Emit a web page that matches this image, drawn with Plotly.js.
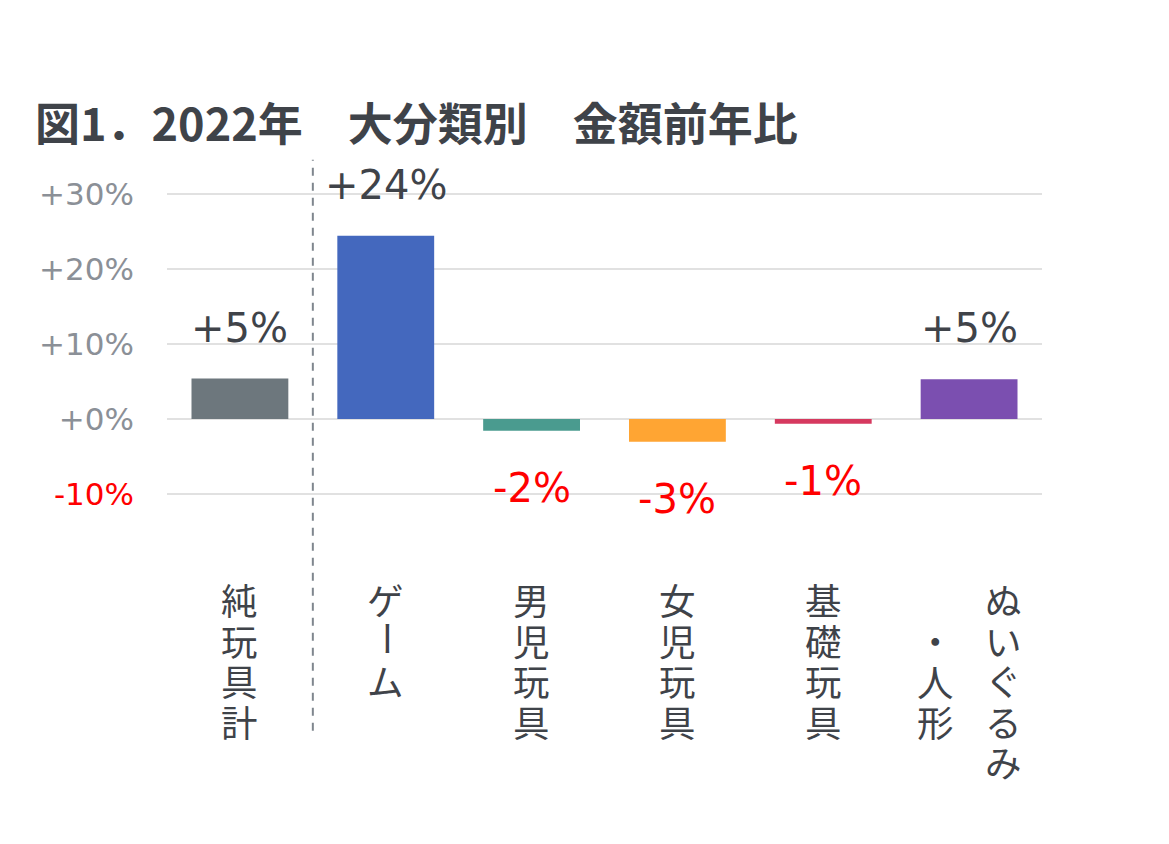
<!DOCTYPE html>
<html>
<head>
<meta charset="utf-8">
<script src="https://cdn.plot.ly/plotly-3.0.1.min.js"></script>
<style>html,body{margin:0;padding:0;background:#fff;}#chart{width:1169px;height:844px;}</style>
</head>
<body>
<div id="chart"></div>
<script>
// ---- data ----
const categories = ["純玩具計", "ゲーム", "男児玩具", "女児玩具", "基礎玩具", "ぬいぐるみ・人形"];
const values = [5.4, 24.4, -1.55, -3.0, -0.6, 5.3];
const barColors = ["#6d777d", "#4468be", "#4a9b8f", "#ffa533", "#d6395f", "#7b4fb0"];
const tickValues = [-10, 0, 10, 20, 30];
const tickLabels = ["-10%", "+0%", "+10%", "+20%", "+30%"];
const titleText = "図1．2022年　大分類別　金額前年比";

// ---- styling ----
const darkText = "#3f4349";
const negRed = "#ff0000";
const cjk = "Noto Sans CJK JP";
const cjkTight = "'Liberation Serif', 'Noto Sans CJK JP'"; // compact line box, CJK glyphs from Noto
const num = "DejaVu Sans";

const tickText = tickLabels.map((t, i) => tickValues[i] < 0 ? `<span style="color:${negRed}">${t}</span>` : t);

const annotations = [];
// value labels
values.forEach((v, i) => {
  const r = Math.round(v);
  const txt = (r >= 0 ? "+" : "") + r + "%";
  annotations.push({
    x: categories[i], y: v, xref: "x", yref: "y",
    text: txt, showarrow: false,
    yanchor: "middle", xanchor: "center",
    yshift: v >= 0 ? 51 : -57,
    font: {family: num, size: 40, color: v >= 0 ? darkText : negRed}
  });
});

// vertical category labels: one text per column (lines = characters), columns right-to-left
const colMax = 5, pitch = 40.5, baseSize = pitch / 1.3, glyphSize = 36.5, colGap = 68, topShift = 82;
categories.forEach((c, i) => {
  const chars = Array.from(c);
  const cols = [];
  for (let k = 0; k < chars.length; k += colMax) cols.push(chars.slice(k, k + colMax));
  const nCols = cols.length;
  const maxLen = Math.max(...cols.map(a => a.length));
  cols.forEach((col, ci) => {
    const xs = ((nCols - 1) / 2 - ci) * colGap;
    const off = Math.floor((maxLen - col.length) / 2);
    const lines = col.map(ch => ch === "ー" ? "" : `<span style="font-size:${glyphSize}px">${ch}</span>`);
    annotations.push({
      x: categories[i], y: 0, xref: "x", yref: "paper",
      text: lines.join("<br>"), showarrow: false,
      xanchor: "center", yanchor: "top", align: "center",
      xshift: xs, yshift: -(topShift + off * pitch),
      font: {family: cjkTight, size: baseSize, color: darkText}
    });
    // long-vowel mark turned upright for vertical writing
    col.forEach((ch, ri) => {
      if (ch !== "ー") return;
      annotations.push({
        x: categories[i], y: 0, xref: "x", yref: "paper",
        text: ch, showarrow: false, textangle: 90,
        xanchor: "center", yanchor: "middle",
        xshift: xs, yshift: -(100.5 + (ri + off) * pitch),
        font: {family: cjkTight, size: glyphSize, color: darkText}
      });
    });
  });
});

const plotTop = 190.25, plotBottom = 497.75, plotH = plotBottom - plotTop;
const data = [{
  type: "bar",
  x: categories,
  y: values,
  marker: {color: barColors},
  hoverinfo: "skip"
}];

const layout = {
  width: 1169, height: 844,
  paper_bgcolor: "#ffffff", plot_bgcolor: "#ffffff",
  margin: {l: 166.7, r: 127, t: plotTop, b: 844 - plotBottom, pad: 0},
  showlegend: false,
  bargap: 0.336,
  title: {
    text: titleText,
    xref: "container", yref: "container",
    x: 35 / 1169, xanchor: "left",
    y: 1 - 125 / 844, yanchor: "middle",
    font: {family: cjk, size: 45, weight: "bold", color: darkText}
  },
  xaxis: {
    type: "category", range: [-0.5, categories.length - 0.5],
    showticklabels: false, showgrid: false, zeroline: false, showline: false, ticks: ""
  },
  yaxis: {
    range: [-10.5, 30.5],
    tickmode: "array", tickvals: tickValues, ticktext: tickText,
    tickfont: {family: num, size: 31, color: "#8b9097"},
    showgrid: true, gridcolor: "#e1e1e1", gridwidth: 2,
    zeroline: false, showline: false, ticks: "",
    ticklabelstandoff: 32
  },
  shapes: [{
    type: "line", xref: "paper", yref: "paper",
    x0: 1 / categories.length, x1: 1 / categories.length,
    y0: (plotBottom - 730) / plotH, y1: (plotBottom - 160) / plotH,
    line: {color: "#7f868e", width: 2, dash: "8px,7px"}
  }],
  annotations: annotations
};

Plotly.newPlot("chart", data, layout, {displayModeBar: false, staticPlot: true});
</script>
</body>
</html>
